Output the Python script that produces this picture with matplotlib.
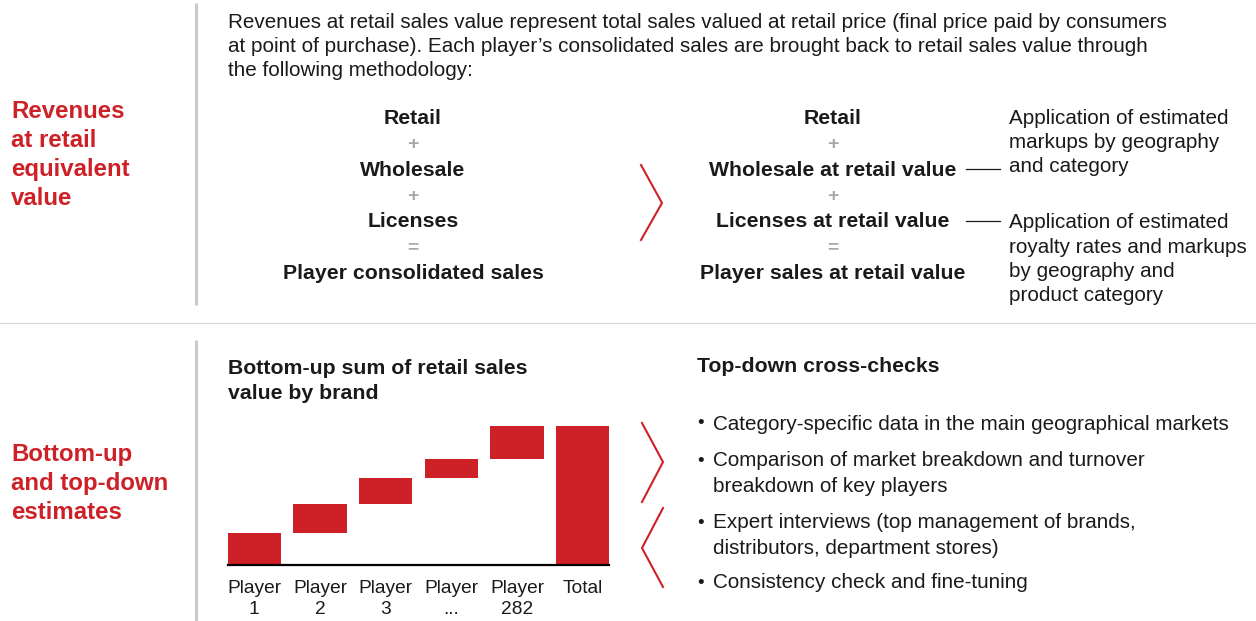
import matplotlib.pyplot as plt

plt.rcParams['font.family'] = ['Liberation Sans', 'DejaVu Sans']

RED = "#CD2027"
INK = "#1A1A1A"
SYMBOL_GREY = "#A6A6A6"
RULE_GREY = "#CACACA"

# --- text content -----------------------------------------------------------
section_titles = [
    ["Revenues", "at retail", "equivalent", "value"],
    ["Bottom-up", "and top-down", "estimates"],
]
intro_lines = [
    "Revenues at retail sales value represent total sales valued at retail price (final price paid by consumers",
    "at point of purchase). Each player\u2019s consolidated sales are brought back to retail sales value through",
    "the following methodology:",
]
formula_left = ["Retail", "+", "Wholesale", "+", "Licenses", "=", "Player consolidated sales"]
formula_right = ["Retail", "+", "Wholesale at retail value", "+", "Licenses at retail value", "=",
                 "Player sales at retail value"]
note_markups = ["Application of estimated", "markups by geography", "and category"]
note_royalty = ["Application of estimated", "royalty rates and markups", "by geography and",
                "product category"]
chart_title = ["Bottom-up sum of retail sales", "value by brand"]
crosscheck_title = "Top-down cross-checks"
crosscheck_bullets = [
    ["Category-specific data in the main geographical markets"],
    ["Comparison of market breakdown and turnover", "breakdown of key players"],
    ["Expert interviews (top management of brands,", "distributors, department stores)"],
    ["Consistency check and fine-tuning"],
]

# --- waterfall data -----------------------------------------------------------
players = ["Player\n1", "Player\n2", "Player\n3", "Player\n...", "Player\n282"]
player_values = [32, 29, 26, 19, 33]
total_label = "Total"

BODY = 14.9
BOLD = 15.3
NUDGE = 2  # va="center" sits a touch high compared with the slide


def stack_lines(ax, x, y0, step, texts, **kw):
    """Draw one text per line, so line pitch matches the slide exactly."""
    for i, t in enumerate(texts):
        ax.text(x, y0 + NUDGE + i * step, t, va="center", **kw)


fig = plt.figure(figsize=(12.56, 6.21), dpi=100)

# full-figure canvas in pixel units (y grows downwards)
canvas = fig.add_axes([0, 0, 1, 1])
canvas.set_xlim(0, 1256)
canvas.set_ylim(621, 0)
canvas.axis("off")

# section labels
stack_lines(canvas, 11, 110, 28.8, section_titles[0], color=RED, fontsize=17.3, fontweight="bold")
stack_lines(canvas, 11, 453, 28.6, section_titles[1], color=RED, fontsize=17.3, fontweight="bold")

# rules
canvas.plot([196, 196], [3, 305], color=RULE_GREY, lw=2.2, solid_capstyle="butt")
canvas.plot([196, 196], [340, 621], color=RULE_GREY, lw=2.2, solid_capstyle="butt")
canvas.plot([0, 1256], [323, 323], color="#D6D6D6", lw=0.9)

# intro paragraph
stack_lines(canvas, 228, 20, 24.2, intro_lines, color=INK, fontsize=BODY)

# formulas
for i, (left, right) in enumerate(zip(formula_left, formula_right)):
    y = 117 + NUDGE + i * 25.7
    is_op = left in "+="
    style = dict(color=SYMBOL_GREY, fontsize=14, fontweight="bold") if is_op else \
        dict(color=INK, fontsize=BOLD, fontweight="bold")
    canvas.text(413, y, left, ha="center", va="center", **style)
    canvas.text(833, y, right, ha="center", va="center", **style)

# connector lines and notes
canvas.plot([966, 1000], [169, 169], color=INK, lw=0.9)
canvas.plot([966, 1000], [221, 221], color=INK, lw=0.9)
stack_lines(canvas, 1009, 117, 24, note_markups, color=INK, fontsize=BODY)
stack_lines(canvas, 1009, 221, 24.3, note_royalty, color=INK, fontsize=BODY)

# chevrons
canvas.plot([641, 662, 641], [165, 203, 240], color=RED, lw=1.5)
canvas.plot([642, 663, 642], [423, 462, 502], color=RED, lw=1.5)
canvas.plot([663, 642, 663], [508, 548, 587], color=RED, lw=1.5)

# chart / cross-check titles
stack_lines(canvas, 228, 366, 25.5, chart_title, color=INK, fontsize=BOLD, fontweight="bold")
stack_lines(canvas, 697, 365, 0, [crosscheck_title], color=INK, fontsize=BOLD, fontweight="bold")

# bullets
bullet_y = [422, 459, 521, 581]
for y, item in zip(bullet_y, crosscheck_bullets):
    stack_lines(canvas, 697, y, 0, ["\u2022"], color=INK, fontsize=13.5)
    stack_lines(canvas, 713, y, 25, item, color=INK, fontsize=BODY)

# waterfall chart
ax = fig.add_axes([228 / 1256, 56 / 621, 381 / 1256, 139 / 621])
bottoms = []
running = 0
for v in player_values:
    bottoms.append(running)
    running += v
ax.bar(range(len(players)), player_values, bottom=bottoms, width=0.81, color=RED)
ax.bar(len(players), running, width=0.81, color=RED)
ax.axhline(0, color="black", lw=1.6, clip_on=False)
ax.set_xlim(-0.4, 5.4)
ax.set_ylim(0, running)
ax.set_xticks(range(len(players) + 1), players + [total_label])
ax.tick_params(axis="x", length=0, pad=11, labelsize=13.8, labelcolor=INK)
for t in ax.get_xticklabels():
    t.set_linespacing(1.3)
ax.set_yticks([])
for s in ax.spines.values():
    s.set_visible(False)

fig.savefig("out.png", dpi=100)
